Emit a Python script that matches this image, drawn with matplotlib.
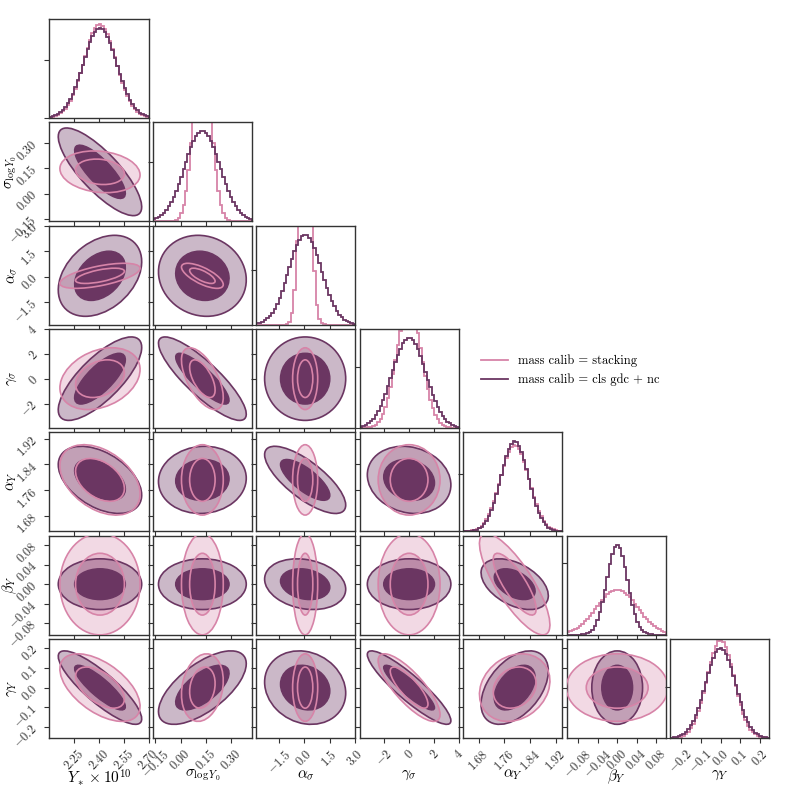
#!/usr/bin/env python3
"""Corner plot: stacking vs cls gdc+nc mass calibration constraints."""

import math
import matplotlib
matplotlib.use("Agg")
import matplotlib.pyplot as plt
import matplotlib.ticker as ticker
from matplotlib.patches import Ellipse
from matplotlib.lines import Line2D
import numpy as np

# ── Data ─────────────────────────────────────────────────────────────────
labels = [r"$Y_* \times 10^{10}$", r"$\sigma_{\log Y_0}$", r"$\alpha_\sigma$",
          r"$\gamma_\sigma$", r"$\alpha_Y$", r"$\beta_Y$", r"$\gamma_Y$"]
means = [2.405, 0.13, 0.05, 0.0, 1.792, 0.0, 0.0]
sig_stack = [0.098, 0.05, 0.30, 1.0, 0.044, 0.042, 0.069]
sig_cls = [0.102, 0.105, 0.97, 1.35, 0.042, 0.021, 0.075]

# lower triangle correlations, row i has entries for columns 0..i-1
rho_stack = [
    [],
    [-0.15],
    [0.6, -0.7],
    [0.3, -0.6, 0.0],
    [-0.4, 0.0, 0.0, 0.0],
    [0.0, 0.0, 0.0, 0.0, -0.8],
    [-0.55, 0.2, 0.0, -0.8, 0.2, 0.0],
]
rho_cls = [
    [],
    [-0.8],
    [0.35, -0.1],
    [0.75, -0.85, 0.0],
    [-0.45, 0.05, -0.75, -0.15],
    [0.0, 0.0, -0.2, 0.0, -0.45],
    [-0.85, 0.65, -0.15, -0.9, 0.45, 0.0],
]

ranges = [(2.097, 2.70), (-0.165, 0.425), (-2.86, 3.04), (-3.97, 4.0),
          (1.632, 1.94), (-0.104, 0.10), (-0.256, 0.247)]
tick_vals = [[2.25, 2.40, 2.55, 2.70], [-0.15, 0.00, 0.15, 0.30],
             [-1.5, 0.0, 1.5, 3.0], [-2, 0, 2, 4], [1.68, 1.76, 1.84, 1.92],
             [-0.08, -0.04, 0.00, 0.04, 0.08], [-0.2, -0.1, 0.0, 0.1, 0.2]]
tick_fmt = ["%.2f", "%.2f", "%.1f", "%d", "%.2f", "%.2f", "%.1f"]

series_names = ["mass calib = stacking", "mass calib = cls gdc + nc"]

# ── Style ────────────────────────────────────────────────────────────────
PINK = "#D784A8"
PURPLE = "#6B3662"
N_BINS = 40
K1, K2 = 1.515, 2.486   # 68% / 95% 2D contour radii

plt.rcParams.update({
    "font.family": "serif",
    "font.serif": ["cmr10", "DejaVu Serif"],
    "mathtext.fontset": "cm",
    "axes.formatter.use_mathtext": True,
    "axes.unicode_minus": True,
    "font.size": 9,
    "axes.linewidth": 1.0,
    "axes.edgecolor": "#333333",
    "xtick.color": "#333333",
    "ytick.color": "#333333",
    "xtick.major.size": 3.5,
    "ytick.major.size": 3.5,
})


def fmt_tick(f):
    def _f(v, _):
        s = f % v
        if s.startswith("-"):
            s = r"$-$" + s[1:]
        return s
    return _f


def binned_gauss(mu, sig, lo, hi):
    edges = np.linspace(lo, hi, N_BINS + 1)
    cdf = np.array([0.5 * (1 + math.erf((e - mu) / (sig * math.sqrt(2)))) for e in edges])
    dens = np.diff(cdf) / np.diff(edges)
    return edges, dens


def ellipse(mx, my, sx, sy, rho, k, **kw):
    cov = np.array([[sx * sx, rho * sx * sy], [rho * sx * sy, sy * sy]])
    vals, vecs = np.linalg.eigh(cov)
    order = vals.argsort()[::-1]
    vals, vecs = vals[order], vecs[:, order]
    angle = np.degrees(np.arctan2(vecs[1, 0], vecs[0, 0]))
    return Ellipse((mx, my), 2 * k * np.sqrt(vals[0]), 2 * k * np.sqrt(vals[1]),
                   angle=angle, **kw)


n = len(labels)
fig, axes = plt.subplots(n, n, figsize=(7.89, 7.89), dpi=100)
fig.subplots_adjust(left=0.0625, right=0.975, bottom=0.0646, top=0.976,
                    wspace=0.043, hspace=0.043)

for i in range(n):
    for j in range(n):
        ax = axes[i, j]
        if j > i:
            ax.axis("off")
            continue

        ax.set_xlim(*ranges[j])
        ax.xaxis.set_major_locator(ticker.FixedLocator(tick_vals[j]))

        if i == j:
            e_s, d_s = binned_gauss(means[i], sig_stack[i], *ranges[i])
            e_c, d_c = binned_gauss(means[i], sig_cls[i], *ranges[i])
            ax.stairs(d_s, e_s, color=PINK, lw=1.3)
            ax.stairs(d_c, e_c, color=PURPLE, lw=1.3)
            ax.set_ylim(0, d_c.max() * 1.1)
            ax.yaxis.set_major_locator(ticker.MaxNLocator(2))
            ax.set_yticklabels([])
        else:
            ax.set_ylim(*ranges[i])
            ax.yaxis.set_major_locator(ticker.FixedLocator(tick_vals[i]))
            mx, my = means[j], means[i]
            rs, rc = rho_stack[i][j], rho_cls[i][j]
            sxs, sys_ = sig_stack[j], sig_stack[i]
            sxc, syc = sig_cls[j], sig_cls[i]
            # stacking fills
            ax.add_patch(ellipse(mx, my, sxs, sys_, rs, K2, facecolor=PINK, alpha=0.3, lw=0, zorder=1))
            ax.add_patch(ellipse(mx, my, sxs, sys_, rs, K1, facecolor=PINK, alpha=0.35, lw=0, zorder=1))
            # cls fills
            ax.add_patch(ellipse(mx, my, sxc, syc, rc, K2, facecolor=PURPLE, alpha=0.35, lw=0, zorder=2))
            ax.add_patch(ellipse(mx, my, sxc, syc, rc, K1, facecolor=PURPLE, edgecolor=PURPLE,
                                 lw=1.0, zorder=3))
            ax.add_patch(ellipse(mx, my, sxc, syc, rc, K2, facecolor="none", edgecolor=PURPLE,
                                 lw=1.2, zorder=3))
            # stacking outlines on top
            ax.add_patch(ellipse(mx, my, sxs, sys_, rs, K2, facecolor="none", edgecolor=PINK,
                                 lw=1.2, zorder=4))
            ax.add_patch(ellipse(mx, my, sxs, sys_, rs, K1, facecolor="none", edgecolor=PINK,
                                 lw=1.2, zorder=4))

            if j == 0:
                ax.yaxis.set_major_formatter(ticker.FuncFormatter(fmt_tick(tick_fmt[i])))
                for t in ax.get_yticklabels():
                    t.set_rotation(45)
                ax.set_ylabel(labels[i], fontsize=10.5)
            else:
                ax.set_yticklabels([])

        if i == n - 1:
            ax.xaxis.set_major_formatter(ticker.FuncFormatter(fmt_tick(tick_fmt[j])))
            for t in ax.get_xticklabels():
                t.set_rotation(45)
            ax.set_xlabel(labels[j], fontsize=11)
        else:
            ax.set_xticklabels([])

for ax in axes[:, 0]:
    ax.yaxis.set_label_coords(-0.31, 0.5)
for ax in axes[-1, :]:
    ax.xaxis.set_label_coords(0.5, -0.3)

handles = [Line2D([], [], color=PINK, lw=1.3), Line2D([], [], color=PURPLE, lw=1.3)]
fig.legend(handles, series_names, loc="upper left", bbox_to_anchor=(0.595, 0.565),
           frameon=False, fontsize=9, handlelength=2.2)

fig.savefig("out.png", dpi=100, facecolor="white")
